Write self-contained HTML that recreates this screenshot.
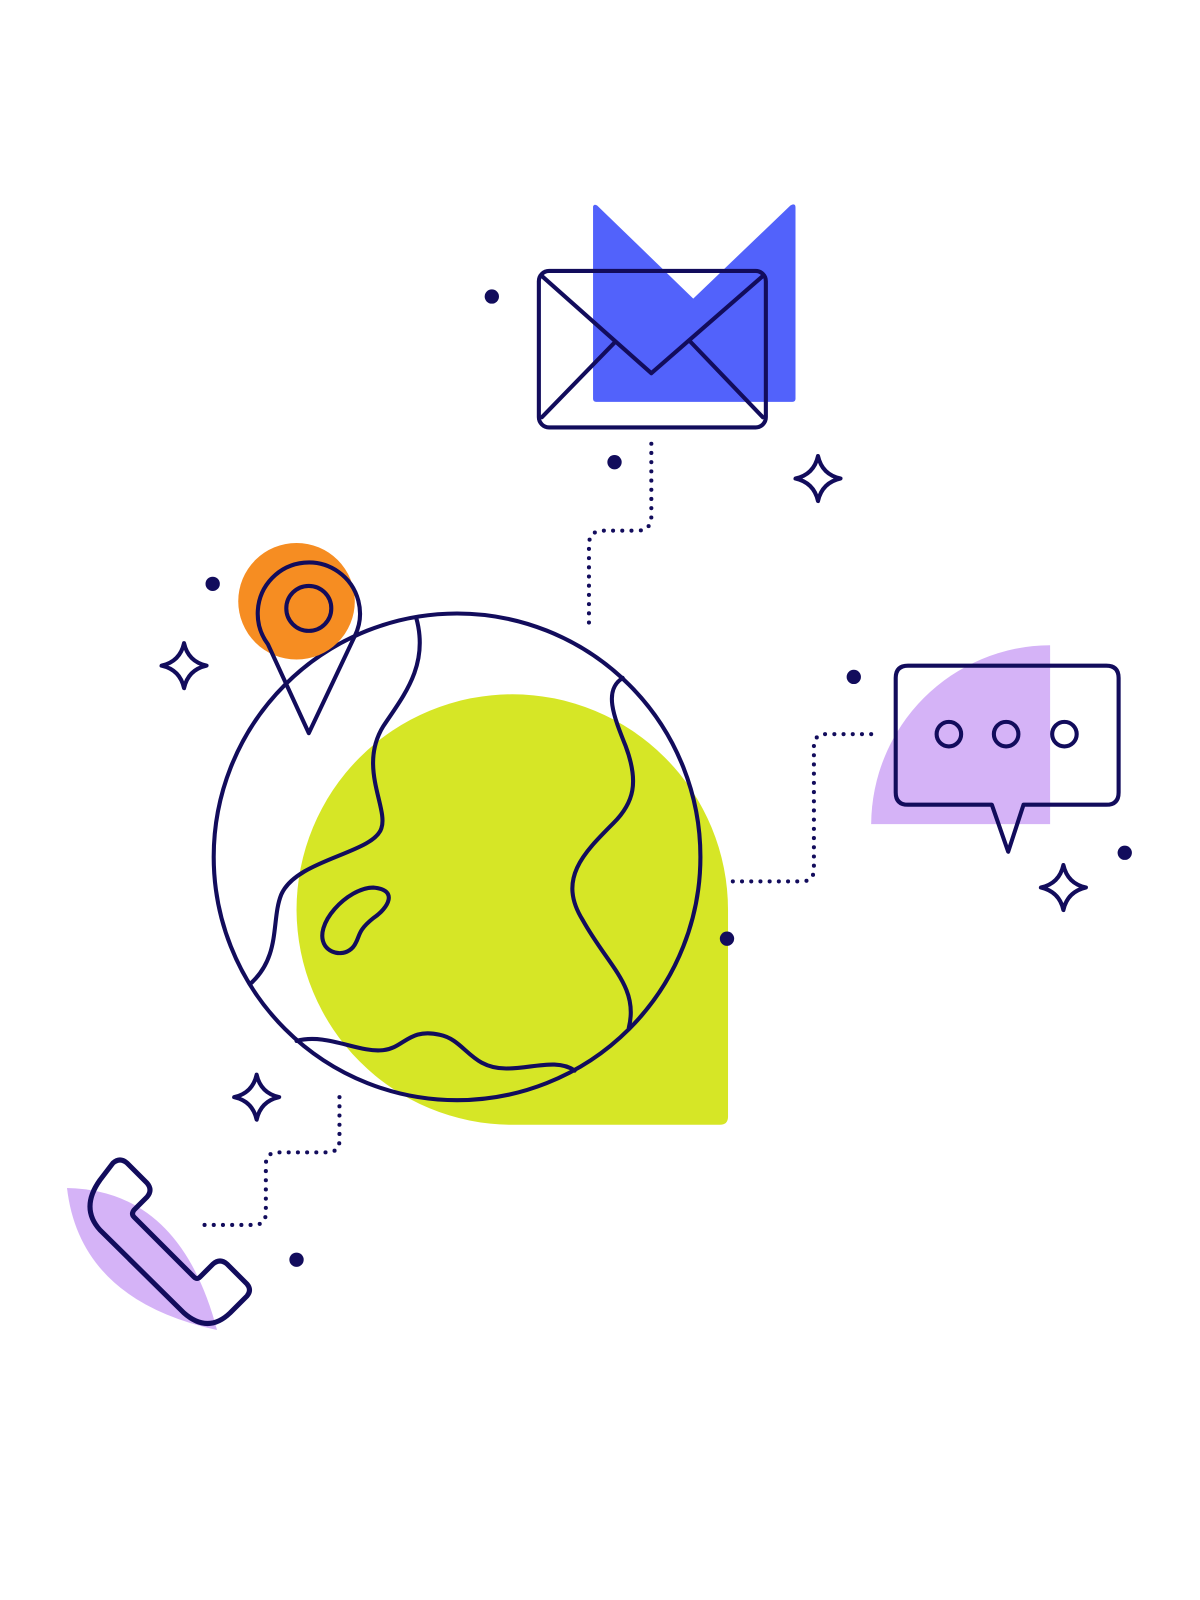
<!DOCTYPE html>
<html><head><style>html,body{margin:0;padding:0;background:#fff;}svg{display:block}</style></head>
<body>
<svg width="1200" height="1600" viewBox="0 0 1200 1600" xmlns="http://www.w3.org/2000/svg">
<g fill="none" stroke="#120c5c" stroke-width="4" stroke-linecap="round" stroke-linejoin="round">
<path d="M67 1188 Q180 1190 217 1330 Q80 1300 67 1188 Z" fill="#d5b3f7" stroke="none"/>
<path d="M113 1163 Q120 1157 127 1163 L147 1183 Q153 1190 147 1197 L134 1210 Q131 1214 134 1217 L194 1277 Q197 1280 200 1277 L213 1264 Q220 1258 227 1264 L247 1284 Q252 1290 247 1296 L230 1313 Q208 1334 184 1313 L100 1230 Q80 1208 100 1180 Z" stroke-width="5"/>
</g>
<g transform="scale(1.0225)" fill="none" stroke="#120c5c" stroke-width="4" stroke-linecap="round" stroke-linejoin="round">
<!-- envelope -->
<path d="M580 202 Q581 199 584 201 L678 292 L773 201 Q778 198 778 203 L778 390 Q778 393 775 393 L583 393 Q580 393 580 390 Z" fill="#5262fb" stroke="none"/>
<rect x="527" y="265" width="222" height="153" rx="10"/>
<path d="M530 270 L637 365 L746 270 M530 408 L602 334 M746 408 L675 334"/>
<path d="M637 434 L637 505 Q637 519 623 519 L590 519 Q576 519 576 533 L576 615" stroke-dasharray="0 9" stroke-width="4"/>
<!-- globe -->
<path d="M290 890 A211 211 0 0 1 712 890 L712 1092 Q712 1100 704 1100 L500 1100 A211 211 0 0 1 290 890 Z" fill="#d6e626" stroke="none"/>
<circle cx="447" cy="838" r="238"/>
<path d="M407 604 C420 650 395 680 375 710 C350 750 380 790 373 810 C365 835 290 840 275 875 C265 900 275 935 245 962"/>
<path d="M318 925 C305 905 340 868 365 868 C390 870 380 888 365 898 C350 910 352 915 348 922 C342 935 325 935 318 925 Z"/>
<path d="M609 663 C590 675 600 700 612 730 C625 765 620 785 600 805 C570 835 545 860 570 900 C595 945 625 965 615 1005"/>
<path d="M290 1018 C320 1010 350 1030 375 1027 C395 1025 400 1005 430 1012 C455 1017 460 1045 495 1045 C520 1045 545 1035 562 1047"/>
<!-- pin -->
<circle cx="290" cy="588" r="57" fill="#f68d22" stroke="none"/>
<path d="M302 717 L262 630 A50 50 0 1 1 347 622 Z" fill="none"/>
<circle cx="302" cy="595" r="22"/>
<!-- chat -->
<path d="M852 806 A176 176 0 0 1 1027 631 L1027 806 Z" fill="#d5b3f7" stroke="none"/>
<path d="M888 651 L1082 651 Q1094 651 1094 663 L1094 775 Q1094 787 1082 787 L1001 787 L986 833 L970 787 L888 787 Q876 787 876 775 L876 663 Q876 651 888 651 Z"/>
<circle cx="928" cy="718" r="12"/><circle cx="984" cy="718" r="12"/><circle cx="1041" cy="718" r="12"/>
<path d="M852 718 L808 718 Q796 718 796 730 L796 850 Q796 862 784 862 L708 862" stroke-dasharray="0 9"/>
<path d="M332 1073 L332 1115 Q332 1127 320 1127 L272 1127 Q260 1127 260 1139 L260 1186 Q260 1198 248 1198 L196 1198" stroke-dasharray="0 9"/>
<!-- sparkles -->
<g stroke-width="4">
<path d="M800 446 Q804 464 822 468 Q804 472 800 490 Q796 472 778 468 Q796 464 800 446 Z"/>
<path d="M180 629 Q184 647 202 651 Q184 655 180 673 Q176 655 158 651 Q176 647 180 629 Z"/>
<path d="M1040 846 Q1044 864 1062 868 Q1044 872 1040 890 Q1036 872 1018 868 Q1036 864 1040 846 Z"/>
<path d="M251 1051 Q255 1069 273 1073 Q255 1077 251 1095 Q247 1077 229 1073 Q247 1069 251 1051 Z"/>
</g>
<g fill="#120c5c" stroke="none">
<circle cx="481" cy="290" r="7"/><circle cx="601" cy="452" r="7"/><circle cx="208" cy="571" r="7"/>
<circle cx="835" cy="662" r="7"/><circle cx="1100" cy="834" r="7"/><circle cx="711" cy="918" r="7"/>
<circle cx="290" cy="1232" r="7"/>
</g>
</g>
</svg>
</body></html>
